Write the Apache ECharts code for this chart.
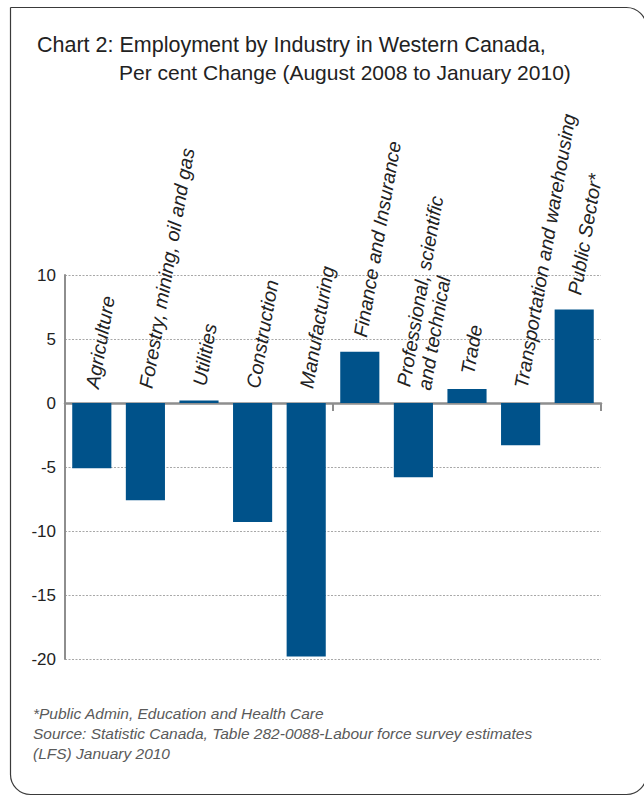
<!DOCTYPE html>
<html>
<head>
<meta charset="utf-8">
<title>Employment by Industry in Western Canada</title>
<script src="https://cdn.jsdelivr.net/npm/echarts/dist/echarts.min.js"></script>
<style>
  html, body { margin: 0; padding: 0; background: #ffffff; }
  #chart { width: 644px; height: 797px; }
</style>
</head>
<body>
<div id="chart"></div>
<script>
// Industries (one bar each) and their per cent change, Aug 2008 -> Jan 2010
const industries = [
  'Agriculture',
  'Forestry, mining, oil and gas',
  'Utilities',
  'Construction',
  'Manufacturing',
  'Finance and Insurance',
  'Professional, scientific\nand technical',
  'Trade',
  'Transportation and warehousing',
  'Public Sector*'
];
const percentChange = [-5.1, -7.6, 0.2, -9.3, -19.8, 4.0, -5.8, 1.1, -3.3, 7.3];

// Value axis range and step
const axisMin = -20;
const axisMax = 10;
const axisStep = 5;

const titleLines = [
  'Chart 2: Employment by Industry in Western Canada,',
  'Per cent Change (August 2008 to January 2010)'
];
const noteLines = [
  '*Public Admin, Education and Health Care',
  'Source: Statistic Canada, Table 282-0088-Labour force survey estimates',
  '(LFS) January 2010'
];

const FONT = "'Liberation Sans', Arial, Helvetica, sans-serif";
const AXIS_GREY = '#8e8e8e';
const BAR_BLUE = '#00528a';

const chart = echarts.init(document.getElementById('chart'), null, { renderer: 'svg' });

chart.setOption({
  backgroundColor: '#ffffff',
  animation: false,
  textStyle: { fontFamily: FONT },
  grid: { left: 65, right: 43, top: 275, bottom: 138, containLabel: false },
  xAxis: {
    type: 'category',
    data: industries,
    boundaryGap: true,
    axisLine: { show: true, onZero: true, lineStyle: { color: AXIS_GREY, width: 2.5 } },
    axisTick: { show: true, alignWithLabel: false, length: 8, lineStyle: { color: AXIS_GREY, width: 2 } },
    axisLabel: { show: false },
    splitLine: { show: false }
  },
  yAxis: {
    type: 'value',
    min: axisMin,
    max: axisMax,
    interval: axisStep,
    axisLine: { show: true, lineStyle: { color: AXIS_GREY, width: 2 } },
    axisTick: { show: false },
    axisLabel: { fontSize: 17, color: '#222222', margin: 9, fontFamily: FONT },
    splitLine: { show: true, lineStyle: { color: '#a8a8a8', width: 1, type: [2, 1.5] } }
  },
  series: [{
    type: 'bar',
    data: percentChange,
    barWidth: '73%',
    itemStyle: { color: BAR_BLUE },
    label: {
      show: true,
      position: 'top',
      distance: 15,
      rotate: 80,
      align: 'left',
      verticalAlign: 'middle',
      fontSize: 19.5,
      fontStyle: 'italic',
      lineHeight: 21,
      color: '#222222',
      fontFamily: FONT,
      formatter: p => industries[p.dataIndex]
    }
  }],
  graphic: [
    {
      type: 'rect',
      silent: true,
      shape: { x: 10.5, y: 7.5, width: 636, height: 787, r: [0, 20, 20, 20] },
      style: { fill: 'none', stroke: '#3a3a3a', lineWidth: 1.2 }
    },
    {
      type: 'text', left: 37, top: 34,
      style: { text: titleLines[0], font: `21.5px ${FONT}`, fill: '#222222' }
    },
    {
      type: 'text', left: 119, top: 62,
      style: { text: titleLines[1], font: `21px ${FONT}`, fill: '#222222' }
    },
    {
      type: 'text', left: 33, top: 703,
      style: { text: noteLines.join('\n'), font: `italic 15.5px ${FONT}`, lineHeight: 20, fill: '#5a5a5a' }
    }
  ]
});
</script>
</body>
</html>
